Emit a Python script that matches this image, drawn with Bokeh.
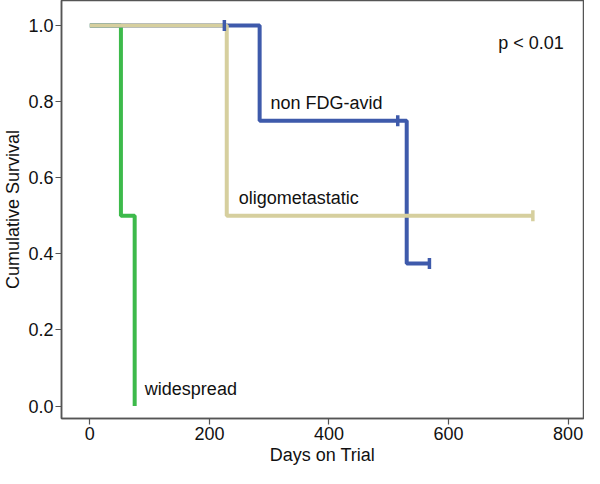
import numpy as np
from bokeh.plotting import figure
from bokeh.models import Range1d, FixedTicker, Label
from bokeh.embed import file_html
from bokeh.resources import INLINE

# Kaplan-Meier step data (days, cumulative survival)
widespread_t = [0, 52, 75]
widespread_s = [1.0, 0.5, 0.0]

oligo_t = [0, 229, 741]
oligo_s = [1.0, 0.5, 0.5]
oligo_cens_t = [741]
oligo_cens_s = [0.5]

nonfdg_t = [0, 284, 530, 568]
nonfdg_s = [1.0, 0.75, 0.375, 0.375]
nonfdg_cens_t = [225, 515, 568]
nonfdg_cens_s = [1.0, 0.75, 0.375]

x_ticks = [0, 200, 400, 600, 800]
y_ticks = [0.0, 0.2, 0.4, 0.6, 0.8, 1.0]

GREEN = "#3dba4b"
TAN = "#d6cf9e"
BLUE = "#3e5aab"
FONT = "Liberation Sans"

p = figure(width=584, height=468, output_backend="svg", toolbar_location=None,
           x_range=Range1d(-47.4, 825.7), y_range=Range1d(-0.0326, 1.0658),
           min_border_left=56, min_border_right=1, min_border_top=0, min_border_bottom=50)

p.xgrid.visible = False
p.ygrid.visible = False
p.outline_line_color = "#555555"
p.outline_line_width = 1.5

for ax in (p.xaxis[0], p.yaxis[0]):
    ax.axis_line_color = "#555555"
    ax.axis_line_width = 1.5
    ax.major_tick_line_color = "#555555"
    ax.major_tick_line_width = 1.2
    ax.major_tick_out = 6
    ax.major_tick_in = 0
    ax.minor_tick_line_color = None
    ax.major_label_text_font = FONT
    ax.major_label_text_font_size = "18px"
    ax.major_label_text_color = "#111111"
    ax.axis_label_text_font = FONT
    ax.axis_label_text_font_size = "18px"
    ax.axis_label_text_font_style = "normal"
    ax.axis_label_text_color = "#111111"

p.xaxis.ticker = FixedTicker(ticks=x_ticks)
p.yaxis.ticker = FixedTicker(ticks=y_ticks)
p.yaxis.major_label_overrides = {v: f"{v:.1f}" for v in y_ticks}
p.xaxis.axis_label = "Days on Trial"
p.yaxis.axis_label = "Cumulative Survival"
p.xaxis.major_label_standoff = 2
p.yaxis.major_label_standoff = 2
p.xaxis.axis_label_standoff = 2
p.yaxis.axis_label_standoff = 2

p.step(widespread_t, widespread_s, mode="after", line_color=GREEN, line_width=4)
p.step(nonfdg_t, nonfdg_s, mode="after", line_color=BLUE, line_width=4)
p.step(oligo_t, oligo_s, mode="after", line_color=TAN, line_width=4)

p.scatter(nonfdg_cens_t, nonfdg_cens_s, marker="dash", angle=np.pi / 2, size=11,
          line_color=BLUE, line_width=3.5)
p.scatter(oligo_cens_t, oligo_cens_s, marker="dash", angle=np.pi / 2, size=11,
          line_color=TAN, line_width=3.5)

labels = [
    ("non FDG-avid", 302, 0.797),
    ("oligometastatic", 249, 0.546),
    ("widespread", 92, 0.046),
    ("p < 0.01", 683, 0.954),
]
for txt, x, y in labels:
    p.add_layout(Label(x=x, y=y, text=txt, text_font=FONT, text_font_size="18px",
                       text_color="#111111", text_baseline="middle"))

open("out.html", "w").write(file_html(p, INLINE))
